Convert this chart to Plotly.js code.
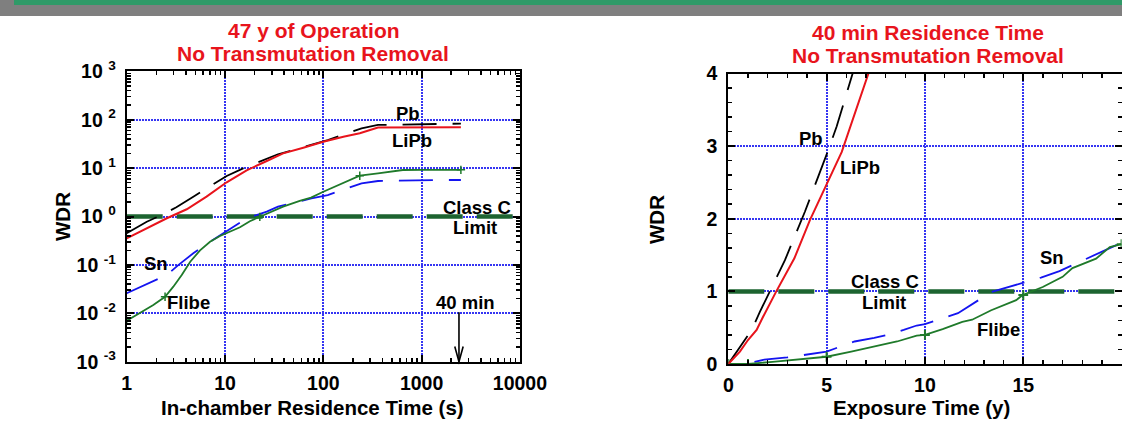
<!DOCTYPE html>
<html>
<head>
<meta charset="utf-8">
<script src="https://cdn.plot.ly/plotly-3.0.1.min.js"></script>
<style>html,body{margin:0;padding:0;background:#fff;overflow:hidden;} #chart{width:1122px;height:422px;}</style>
</head>
<body>
<div id="chart"></div>
<script>
// ---------------- DATA ----------------
// Left panel: 47 y of operation, WDR vs in-chamber residence time (s)
const pbT   = [1, 1.6, 2.26, 3.2, 4.76, 7.04, 10.4, 15.3, 22.6, 34.6, 50, 75.7, 111, 160, 245, 360, 760, 1200, 2510];
const pbW   = [0.45, 0.78, 1.07, 1.55, 2.57, 4.13, 6.87, 9.9, 13.6, 19.3, 23.7, 30, 38, 49, 66.4, 78, 79, 82, 83];
const lipbT = [1, 1.6, 2.56, 4.08, 6.49, 10.4, 16.6, 26.6, 39, 62.6, 100, 160, 235, 360, 600, 1000, 1600, 2510];
const lipbW = [0.355, 0.57, 0.92, 1.41, 2.57, 5.09, 9.0, 14.0, 20.2, 26.4, 35, 44.5, 52.4, 69, 69.5, 70, 70, 70];
const snT   = [1, 1.6, 2.56, 3.37, 4.76, 7.04, 10.8, 16.6, 26.6, 34.6, 50, 75.7, 111, 160, 245, 360, 500, 790, 1500, 2510];
const snW   = [0.026, 0.040, 0.062, 0.10, 0.174, 0.30, 0.526, 0.92, 1.26, 1.6, 1.92, 2.38, 2.78, 3.59, 4.85, 5.41, 5.5, 5.68, 5.68, 5.68];
const flibeT = [1, 1.366, 1.865, 2.456, 2.98, 3.63, 4.43, 5.57, 7.04, 8.89, 11.2, 14.2, 17.9, 22.6, 28.7, 39, 57.6, 75, 100, 160, 235, 360, 645, 1000, 1600, 2510];
const flibeW = [0.0070, 0.0100, 0.0148, 0.022, 0.0355, 0.062, 0.116, 0.20, 0.30, 0.395, 0.485, 0.60, 0.80, 0.98, 1.22, 1.6, 2.1, 2.45, 3.25, 4.85, 6.97, 7.8, 9.13, 9.15, 9.2, 9.2];
const flibeMarkT = [1, 2.456, 22.6, 235, 2510];
const flibeMarkW = [0.0070, 0.022, 0.98, 6.97, 9.2];

// Right panel: 40 min residence time, WDR vs exposure time (y)
const pbYr   = [0, 1.19, 1.61, 2.46, 2.88, 3.9, 4.58, 5.09, 5.51, 6.28, 6.4];
const pbW2   = [0, 0.47, 0.72, 1.18, 1.43, 2.1, 2.58, 2.95, 3.27, 3.96, 4.07];
const lipbYr = [0, 0.59, 1.0, 1.44, 1.75, 2.44, 3.36, 4.15, 5.77, 7.12, 7.2];
const lipbW2 = [0, 0.17, 0.33, 0.47, 0.64, 1.0, 1.455, 1.98, 2.92, 4.0, 4.06];
const snYr   = [1.33, 1.83, 3.0, 3.92, 5.0, 5.5, 6.42, 7.42, 8.08, 8.92, 9.58, 10.0, 10.66, 11.68, 13.37, 14.47, 15.9, 16.84, 18.45, 19.92];
const snW2   = [0.03, 0.06, 0.09, 0.125, 0.17, 0.22, 0.31, 0.36, 0.40, 0.47, 0.53, 0.55, 0.61, 0.70, 0.99, 1.08, 1.19, 1.28, 1.48, 1.66];
const flibeYr = [0, 1, 2.25, 3.75, 5, 6.25, 7.42, 8.58, 9.58, 10, 10.9, 11.9, 12.4, 13.37, 14.64, 14.97, 15.99, 17.0, 17.5, 18.7, 19.4, 20];
const flibeW2 = [0, 0, 0.03, 0.07, 0.10, 0.17, 0.24, 0.31, 0.39, 0.40, 0.48, 0.58, 0.61, 0.74, 0.88, 0.95, 1.06, 1.20, 1.32, 1.45, 1.61, 1.65];
const flibeMarkYr = [0, 1, 5, 10, 15, 20];
const flibeMarkW2 = [0, 0, 0.10, 0.40, 0.95, 1.65];

const classCLimit = 1;
const residenceMark = 2400; // 40 min in s

const leftXTicks  = [1, 10, 100, 1000, 10000];
const leftXText   = ['1', '10', '100', '1000', '10000'];
const leftYTicks  = [0.001, 0.01, 0.1, 1, 10, 100, 1000];
const leftYText   = ['10 <sup>-3</sup>', '10 <sup>-2</sup>', '10 <sup>-1</sup>', '10 <sup>0</sup>', '10 <sup>1</sup>', '10 <sup>2</sup>', '10 <sup>3</sup>'];

// ---------------- STYLE / LAYOUT ----------------
const W = 1122, H = 422;
const FONT = 'Liberation Sans, Arial, Helvetica, sans-serif';
const px = v => v / W;
const py = v => 1 - v / H;

const RED = '#e8141c', BLACK = '#000000', BLUE = '#1414f0', GREEN = '#1f7a2a', CLASSC = '#1d6430', GRID = '#3535f2';
const DASH = '34px,16px';

// minor tick positions (2..9 of every decade) for the log axes
const logMinor = (lo, hi) => {
  const v = [];
  for (let d = lo; d < hi; d++) for (let k = 2; k <= 9; k++) v.push(k * Math.pow(10, d));
  return v;
};

const xL = [px(126.7), px(519.9)], yL = [py(361.7), py(71.3)];
const xR = [px(728.3), px(1121.6)], yR = [py(364), py(73.5)];

const axBase = {
  showline: true, linecolor: 'black', linewidth: 2, mirror: 'allticks',
  ticks: 'inside', ticklen: 7, tickwidth: 2, tickcolor: 'black',
  zeroline: false, showgrid: true, gridcolor: GRID, gridwidth: 2, griddash: '2px,1px',
  tickfont: {family: FONT, size: 19.5, color: 'black', weight: 'bold'},
  fixedrange: true
};
const minorBase = {ticks: 'inside', ticklen: 4, tickwidth: 1.5, tickcolor: 'black', showgrid: false};

const traces = [
  // Left panel
  {x: [leftXTicks[0], leftXTicks[leftXTicks.length-1]], y: [classCLimit, classCLimit], xaxis: 'x', yaxis: 'y', mode: 'lines', line: {color: CLASSC, width: 4.5, dash: '36px,14px'}},
  {x: pbT, y: pbW, xaxis: 'x', yaxis: 'y', mode: 'lines', line: {color: BLACK, width: 1.8, dash: DASH}},
  {x: snT, y: snW, xaxis: 'x', yaxis: 'y', mode: 'lines', line: {color: BLUE, width: 1.8, dash: DASH}},
  {x: flibeT, y: flibeW, xaxis: 'x', yaxis: 'y', mode: 'lines', line: {color: GREEN, width: 1.8}},
  {x: flibeMarkT, y: flibeMarkW, xaxis: 'x', yaxis: 'y', mode: 'markers', marker: {symbol: 'cross-thin', size: 6, line: {color: GREEN, width: 1.5}}},
  {x: lipbT, y: lipbW, xaxis: 'x', yaxis: 'y', mode: 'lines', line: {color: RED, width: 2}},
  // Right panel
  {x: [0, 20], y: [classCLimit, classCLimit], xaxis: 'x2', yaxis: 'y2', mode: 'lines', line: {color: CLASSC, width: 4.5, dash: '36px,14px'}},
  {x: pbYr, y: pbW2, xaxis: 'x2', yaxis: 'y2', mode: 'lines', line: {color: BLACK, width: 1.8, dash: DASH}},
  {x: snYr, y: snW2, xaxis: 'x2', yaxis: 'y2', mode: 'lines', line: {color: BLUE, width: 1.8, dash: DASH}},
  {x: flibeYr, y: flibeW2, xaxis: 'x2', yaxis: 'y2', mode: 'lines', line: {color: GREEN, width: 1.8}},
  {x: flibeMarkYr, y: flibeMarkW2, xaxis: 'x2', yaxis: 'y2', mode: 'markers', marker: {symbol: 'cross-thin', size: 7, line: {color: GREEN, width: 2}}},
  {x: lipbYr, y: lipbW2, xaxis: 'x2', yaxis: 'y2', mode: 'lines', line: {color: RED, width: 2}}
];

const lab = (text, x, y, xref, yref, size, color, extra) => Object.assign({
  text, x, y, xref, yref, showarrow: false, xanchor: 'center', yanchor: 'middle',
  font: {family: FONT, size: size || 18.5, color: color || 'black', weight: 'bold'}
}, extra || {});

const L10 = Math.log10;
const annotations = [
  // titles
  lab('47 y of Operation', px(314), py(30.8), 'paper', 'paper', 21, RED),
  lab('No Transmutation Removal', px(313), py(53.3), 'paper', 'paper', 21, RED),
  lab('40 min Residence Time', px(928), py(32.5), 'paper', 'paper', 21, RED),
  lab('No Transmutation Removal', px(927.5), py(55.8), 'paper', 'paper', 21, RED),
  // axis titles
  lab('In-chamber Residence Time (s)', px(312), py(407), 'paper', 'paper', 20.5),
  lab('Exposure Time (y)', px(921), py(407), 'paper', 'paper', 20.5),
  lab('WDR', px(62), py(217), 'paper', 'paper', 20.5, 'black', {textangle: -90}),
  lab('WDR', px(656), py(220), 'paper', 'paper', 20.5, 'black', {textangle: -90}),
  // left panel labels (log units)
  lab('Pb', 2.862, 2.138, 'x', 'y'),
  lab('LiPb', 2.902, 1.58, 'x', 'y'),
  lab('Class C', 3.564, 0.196, 'x', 'y'),
  lab('Limit', 3.543, -0.217, 'x', 'y'),
  lab('Sn', 0.298, -0.981, 'x', 'y'),
  lab('Flibe', 0.624, -1.787, 'x', 'y'),
  lab('40 min', 3.442, -1.767, 'x', 'y'),
  {x: L10(residenceMark), y: -3, xref: 'x', yref: 'y', ax: 0, ay: -52, showarrow: true, arrowhead: 0, arrowwidth: 1.6, arrowcolor: 'black', text: ' ', font: {size: 2}},
  // right panel labels
  lab('Pb', 4.21, 3.10, 'x2', 'y2'),
  lab('LiPb', 6.70, 2.70, 'x2', 'y2'),
  lab('Class C', 7.97, 1.14, 'x2', 'y2'),
  lab('Limit', 7.92, 0.85, 'x2', 'y2'),
  lab('Sn', 16.47, 1.46, 'x2', 'y2'),
  lab('Flibe', 13.72, 0.48, 'x2', 'y2')
];

// open arrow head at the 40 min mark (paper coords)
const tipPx = 126.7 + (L10(residenceMark) / 4) * (519.9 - 126.7);
const head = `M ${px(tipPx-4.2)},${py(346.5)} L ${px(tipPx)},${py(361.7)} L ${px(tipPx+4.2)},${py(346.5)}`;

const shapes = [
  {type: 'rect', xref: 'paper', yref: 'paper', x0: 0, x1: 1, y0: py(16), y1: 1, fillcolor: '#7f7f7f', line: {width: 0}, layer: 'above'},
  {type: 'rect', xref: 'paper', yref: 'paper', x0: px(14), x1: 1, y0: py(5), y1: 1, fillcolor: '#2f9a68', line: {width: 0}, layer: 'above'},
  {type: 'path', xref: 'paper', yref: 'paper', path: head, line: {color: 'black', width: 1.6}, layer: 'above'}
];

const layout = {
  width: W, height: H, margin: {l: 0, r: 0, t: 0, b: 0},
  paper_bgcolor: 'white', plot_bgcolor: 'white', showlegend: false, hovermode: false,
  font: {family: FONT, size: 19, color: 'black', weight: 'bold'},
  xaxis: Object.assign({}, axBase, {domain: xL, anchor: 'y', type: 'log', range: [0, 4], tickmode: 'array', tickvals: leftXTicks, ticktext: leftXText, ticklabelstandoff: 3, minor: Object.assign({tickmode: 'array', tickvals: logMinor(0, 4)}, minorBase)}),
  yaxis: Object.assign({}, axBase, {domain: yL, anchor: 'x', type: 'log', range: [-3, 3], tickmode: 'array', tickvals: leftYTicks, ticktext: leftYText, ticklabelstandoff: 5, minor: Object.assign({tickmode: 'array', tickvals: logMinor(-3, 3)}, minorBase)}),
  xaxis2: Object.assign({}, axBase, {domain: xR, anchor: 'y2', range: [0, 20], tickmode: 'linear', dtick: 5, tick0: 0, ticklabelstandoff: 3, minor: Object.assign({tickmode: 'linear', tick0: 0, dtick: 1}, minorBase)}),
  yaxis2: Object.assign({}, axBase, {domain: yR, anchor: 'x2', range: [0, 4], tickmode: 'linear', dtick: 1, tick0: 0, ticklabelstandoff: 5, minor: Object.assign({tickmode: 'linear', tick0: 0, dtick: 0.2}, minorBase)}),
  annotations, shapes
};

Plotly.newPlot('chart', traces, layout, {staticPlot: true, displayModeBar: false});
</script>
</body>
</html>
